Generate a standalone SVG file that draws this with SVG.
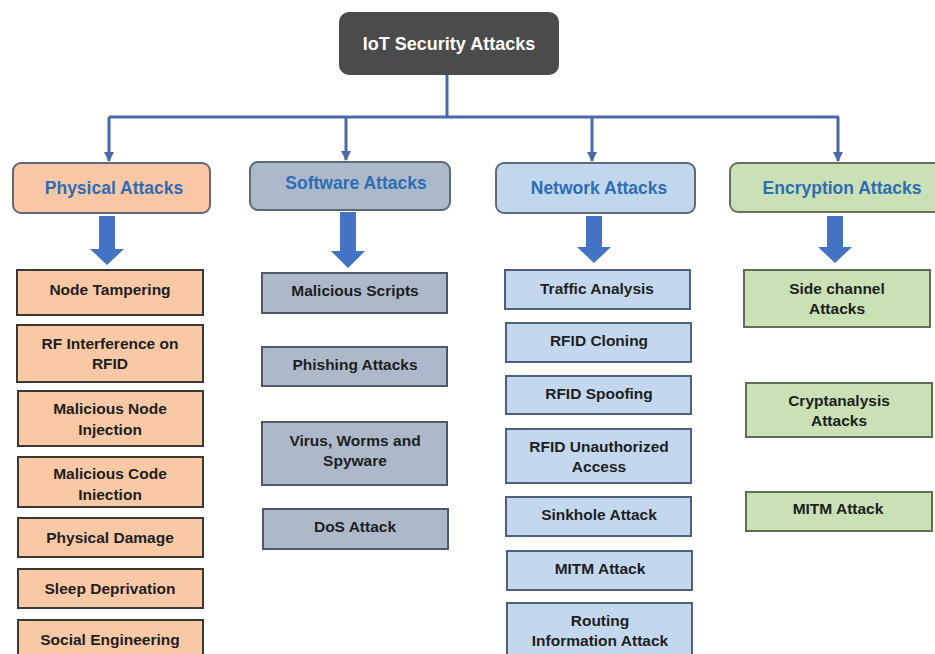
<svg xmlns="http://www.w3.org/2000/svg" width="935" height="654" viewBox="0 0 935 654">
<defs>
<marker id="ah" markerWidth="10" markerHeight="10" refX="9" refY="5" orient="auto" markerUnits="userSpaceOnUse">
<path d="M0,0 L10,5 L0,10 Z" fill="#4a69a8"/>
</marker>
<style>
.t{font-family:"Liberation Sans",Arial,sans-serif;font-weight:bold;text-anchor:middle}
.sub{font-size:15.5px;fill:#1e1e1e}
.cat{font-size:17.5px;fill:#2f6cb3}
.phy{fill:#f9c9a6;stroke:#3e3833;stroke-width:2}
.sw{fill:#adb9cb;stroke:#4f5868;stroke-width:2}
.nw{fill:#c3d8ef;stroke:#50607a;stroke-width:2}
.en{fill:#c9e1b5;stroke:#5f6d58;stroke-width:2}
.big{fill:#4472c4}
.conn{fill:none;stroke:#4a69a8;stroke-width:3}
</style>
</defs>
<rect width="935" height="654" fill="#ffffff"/>

<g id="connectors">
<path class="conn" d="M447,75 V117"/>
<path class="conn" d="M109,117 H839"/>
<path class="conn" d="M109,117 V161" marker-end="url(#ah)"/>
<path class="conn" d="M346,117 V160" marker-end="url(#ah)"/>
<path class="conn" d="M592,117 V161" marker-end="url(#ah)"/>
<path class="conn" d="M838,117 V161" marker-end="url(#ah)"/>
<path class="big" d="M99,216 H115 V249 H124 L107,265 L90,249 H99 Z"/>
<path class="big" d="M340,212 H356 V251 H365 L348,268 L331,251 H340 Z"/>
<path class="big" d="M586,216 H602 V247 H611 L594,263 L577,247 H586 Z"/>
<path class="big" d="M827,216 H843 V247 H852 L835,263 L818,247 H827 Z"/>
</g>

<g id="root">
<rect x="339" y="12" width="220" height="63" rx="10" fill="#4b4b4b"/>
<text class="t" x="449" y="50" font-size="18" fill="#ffffff">IoT Security Attacks</text>
</g>

<g id="physical">
<rect x="13" y="163" width="197" height="50" rx="8" fill="#f9c7a5" stroke="#5d6a7c" stroke-width="2"/>
<text class="t cat" x="114" y="194">Physical Attacks</text>
</g>
<g id="software">
<rect x="250" y="162" width="200" height="48" rx="8" fill="#acb9cb" stroke="#5d6878" stroke-width="2"/>
<text class="t cat" x="356" y="189">Software Attacks</text>
</g>
<g id="network">
<rect x="496" y="163" width="199" height="50" rx="8" fill="#c0d7ee" stroke="#5d6a7c" stroke-width="2"/>
<text class="t cat" x="599" y="194">Network Attacks</text>
</g>
<g id="encryption">
<rect x="730" y="163" width="212" height="49" rx="8" fill="#c9e1b5" stroke="#66705f" stroke-width="2"/>
<text class="t cat" x="842" y="194">Encryption Attacks</text>
</g>

<g id="node-tampering"><rect class="phy" x="17" y="270" width="186" height="45"/><text class="t sub" x="110" y="295">Node Tampering</text></g>
<g id="rf-interference"><rect class="phy" x="17" y="325" width="186" height="57"/><text class="t sub" x="110" y="349">RF Interference on</text><text class="t sub" x="110" y="369">RFID</text></g>
<g id="malicious-node"><rect class="phy" x="18" y="391" width="185" height="55"/><text class="t sub" x="110" y="414">Malicious Node</text><text class="t sub" x="110" y="435">Injection</text></g>
<g id="malicious-code"><rect class="phy" x="18" y="457" width="185" height="50"/><text class="t sub" x="110" y="479">Malicious Code</text><text class="t sub" x="110" y="500">Iniection</text></g>
<g id="physical-damage"><rect class="phy" x="18" y="518" width="185" height="39"/><text class="t sub" x="110" y="543">Physical Damage</text></g>
<g id="sleep-deprivation"><rect class="phy" x="18" y="569" width="185" height="39"/><text class="t sub" x="110" y="594">Sleep Deprivation</text></g>
<g id="social-engineering"><rect class="phy" x="18" y="620" width="185" height="44"/><text class="t sub" x="110" y="645">Social Engineering</text></g>

<g id="malicious-scripts"><rect class="sw" x="262" y="273" width="185" height="40"/><text class="t sub" x="355" y="296">Malicious Scripts</text></g>
<g id="phishing"><rect class="sw" x="262" y="347" width="185" height="39"/><text class="t sub" x="355" y="370">Phishing Attacks</text></g>
<g id="virus"><rect class="sw" x="262" y="422" width="185" height="63"/><text class="t sub" x="355" y="446">Virus, Worms and</text><text class="t sub" x="355" y="466">Spyware</text></g>
<g id="dos"><rect class="sw" x="263" y="509" width="185" height="40"/><text class="t sub" x="355" y="532">DoS Attack</text></g>

<g id="traffic-analysis"><rect class="nw" x="505" y="270" width="185" height="39"/><text class="t sub" x="597" y="294">Traffic Analysis</text></g>
<g id="rfid-cloning"><rect class="nw" x="506" y="323" width="185" height="39"/><text class="t sub" x="599" y="346">RFID Cloning</text></g>
<g id="rfid-spoofing"><rect class="nw" x="506" y="376" width="185" height="38"/><text class="t sub" x="599" y="399">RFID Spoofing</text></g>
<g id="rfid-unauth"><rect class="nw" x="506" y="429" width="185" height="54"/><text class="t sub" x="599" y="452">RFID Unauthorized</text><text class="t sub" x="599" y="472">Access</text></g>
<g id="sinkhole"><rect class="nw" x="506" y="497" width="185" height="39"/><text class="t sub" x="599" y="520">Sinkhole Attack</text></g>
<g id="mitm-net"><rect class="nw" x="507" y="551" width="185" height="39"/><text class="t sub" x="600" y="574">MITM Attack</text></g>
<g id="routing"><rect class="nw" x="507" y="603" width="185" height="60"/><text class="t sub" x="600" y="626">Routing</text><text class="t sub" x="600" y="646">Information Attack</text></g>

<g id="side-channel"><rect class="en" x="744" y="270" width="186" height="57"/><text class="t sub" x="837" y="294">Side channel</text><text class="t sub" x="837" y="314">Attacks</text></g>
<g id="cryptanalysis"><rect class="en" x="746" y="383" width="186" height="54"/><text class="t sub" x="839" y="406">Cryptanalysis</text><text class="t sub" x="839" y="426">Attacks</text></g>
<g id="mitm-enc"><rect class="en" x="746" y="492" width="186" height="39"/><text class="t sub" x="838" y="514">MITM Attack</text></g>
</svg>
